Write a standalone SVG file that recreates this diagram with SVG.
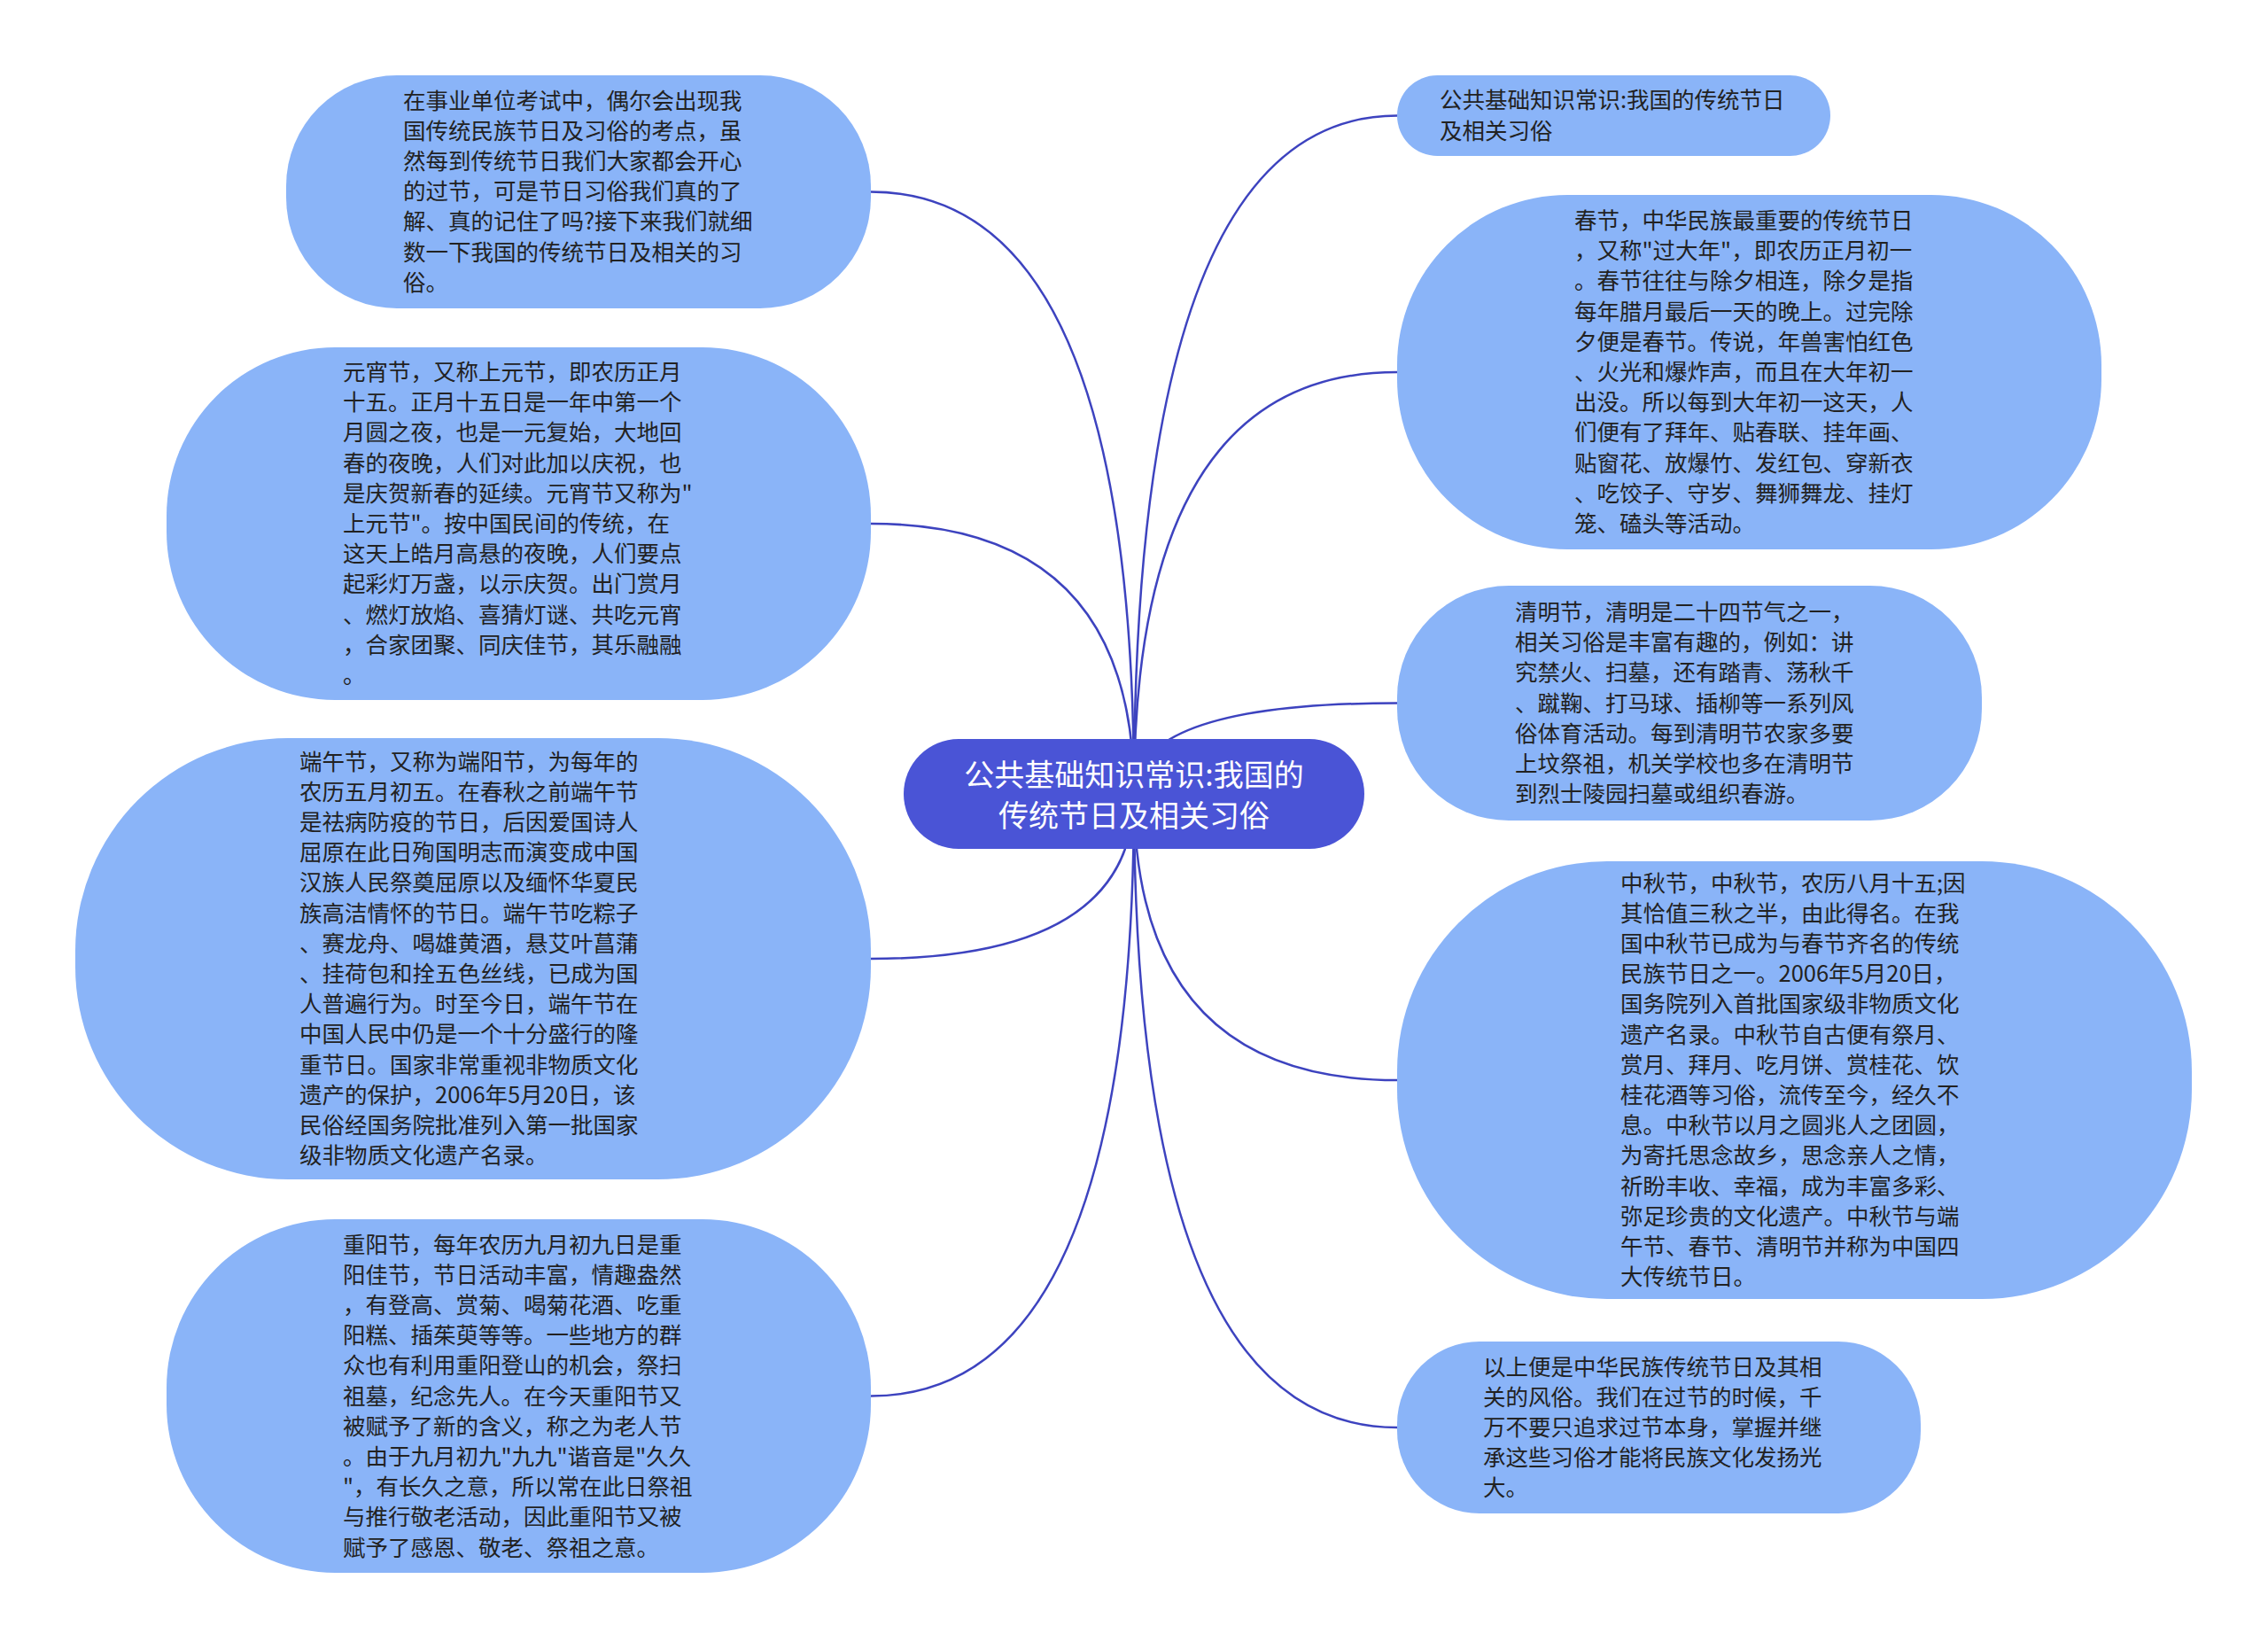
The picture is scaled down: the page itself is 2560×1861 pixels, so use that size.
<svg xmlns="http://www.w3.org/2000/svg" width="2560" height="1861" viewBox="0 0 2560 1861">
<style>
.node{fill:#8ab4f8;}
.t{font-family:"Noto Sans CJK SC","Noto Sans",sans-serif;font-size:25.5px;fill:#222;}
.ct{font-family:"Noto Sans CJK SC","Noto Sans",sans-serif;font-size:34px;fill:#fff;text-anchor:middle;}
.edge{fill:none;stroke:#3d43bf;stroke-width:2.5;}
</style>
<rect width="2560" height="1861" fill="#fff"/>
<g id="connectors">
<path class="edge" d="M1280 896 Q1280 130.5 1577 130.5"/>
<path class="edge" d="M1280 896 Q1280 420 1577 420"/>
<path class="edge" d="M1280 896 Q1280 793.5 1577 793.5"/>
<path class="edge" d="M1280 896 Q1280 1219 1577 1219"/>
<path class="edge" d="M1280 896 Q1280 1611 1577 1611"/>
<path class="edge" d="M1280 896 Q1280 216.5 983 216.5"/>
<path class="edge" d="M1280 896 Q1280 591 983 591"/>
<path class="edge" d="M1280 896 Q1280 1082 983 1082"/>
<path class="edge" d="M1280 896 Q1280 1575.5 983 1575.5"/>
</g>
<g id="center">
<rect x="1020" y="834" width="520" height="124" rx="62" fill="#4a54d6"/>
<text class="ct" x="1280" y="887">公共基础知识常识:我国的</text>
<text class="ct" x="1280" y="933">传统节日及相关习俗</text>
</g>
<g id="L1">
<rect class="node" x="323" y="85" width="660" height="263" rx="125" ry="125"/>
<text class="t" x="455" y="122.5"><tspan x="455">在事业单位考试中，偶尔会出现我</tspan><tspan x="455" dy="34.2">国传统民族节日及习俗的考点，虽</tspan><tspan x="455" dy="34.2">然每到传统节日我们大家都会开心</tspan><tspan x="455" dy="34.2">的过节，可是节日习俗我们真的了</tspan><tspan x="455" dy="34.2">解、真的记住了吗?接下来我们就细</tspan><tspan x="455" dy="34.2">数一下我国的传统节日及相关的习</tspan><tspan x="455" dy="34.2">俗。</tspan></text>
</g>
<g id="L2">
<rect class="node" x="188" y="392" width="795" height="398" rx="190" ry="190"/>
<text class="t" x="387" y="429"><tspan x="387">元宵节，又称上元节，即农历正月</tspan><tspan x="387" dy="34.2">十五。正月十五日是一年中第一个</tspan><tspan x="387" dy="34.2">月圆之夜，也是一元复始，大地回</tspan><tspan x="387" dy="34.2">春的夜晚，人们对此加以庆祝，也</tspan><tspan x="387" dy="34.2">是庆贺新春的延续。元宵节又称为"</tspan><tspan x="387" dy="34.2">上元节"。按中国民间的传统，在</tspan><tspan x="387" dy="34.2">这天上皓月高悬的夜晚，人们要点</tspan><tspan x="387" dy="34.2">起彩灯万盏，以示庆贺。出门赏月</tspan><tspan x="387" dy="34.2">、燃灯放焰、喜猜灯谜、共吃元宵</tspan><tspan x="387" dy="34.2">，合家团聚、同庆佳节，其乐融融</tspan><tspan x="387" dy="34.2">。</tspan></text>
</g>
<g id="L3">
<rect class="node" x="85" y="833" width="898" height="498" rx="240" ry="240"/>
<text class="t" x="338" y="868.5"><tspan x="338">端午节，又称为端阳节，为每年的</tspan><tspan x="338" dy="34.2">农历五月初五。在春秋之前端午节</tspan><tspan x="338" dy="34.2">是祛病防疫的节日，后因爱国诗人</tspan><tspan x="338" dy="34.2">屈原在此日殉国明志而演变成中国</tspan><tspan x="338" dy="34.2">汉族人民祭奠屈原以及缅怀华夏民</tspan><tspan x="338" dy="34.2">族高洁情怀的节日。端午节吃粽子</tspan><tspan x="338" dy="34.2">、赛龙舟、喝雄黄酒，悬艾叶菖蒲</tspan><tspan x="338" dy="34.2">、挂荷包和拴五色丝线，已成为国</tspan><tspan x="338" dy="34.2">人普遍行为。时至今日，端午节在</tspan><tspan x="338" dy="34.2">中国人民中仍是一个十分盛行的隆</tspan><tspan x="338" dy="34.2">重节日。国家非常重视非物质文化</tspan><tspan x="338" dy="34.2">遗产的保护，2006年5月20日，该</tspan><tspan x="338" dy="34.2">民俗经国务院批准列入第一批国家</tspan><tspan x="338" dy="34.2">级非物质文化遗产名录。</tspan></text>
</g>
<g id="L4">
<rect class="node" x="188" y="1376" width="795" height="399" rx="190" ry="190"/>
<text class="t" x="387" y="1413.5"><tspan x="387">重阳节，每年农历九月初九日是重</tspan><tspan x="387" dy="34.2">阳佳节，节日活动丰富，情趣盎然</tspan><tspan x="387" dy="34.2">，有登高、赏菊、喝菊花酒、吃重</tspan><tspan x="387" dy="34.2">阳糕、插茱萸等等。一些地方的群</tspan><tspan x="387" dy="34.2">众也有利用重阳登山的机会，祭扫</tspan><tspan x="387" dy="34.2">祖墓，纪念先人。在今天重阳节又</tspan><tspan x="387" dy="34.2">被赋予了新的含义，称之为老人节</tspan><tspan x="387" dy="34.2">。由于九月初九"九九"谐音是"久久</tspan><tspan x="387" dy="34.2">"，有长久之意，所以常在此日祭祖</tspan><tspan x="387" dy="34.2">与推行敬老活动，因此重阳节又被</tspan><tspan x="387" dy="34.2">赋予了感恩、敬老、祭祖之意。</tspan></text>
</g>
<g id="R1">
<rect class="node" x="1577" y="85" width="489" height="91" rx="45.5" ry="45.5"/>
<text class="t" x="1625" y="122.3"><tspan x="1625">公共基础知识常识:我国的传统节日</tspan><tspan x="1625" dy="34.2">及相关习俗</tspan></text>
</g>
<g id="R2">
<rect class="node" x="1577" y="220" width="795" height="400" rx="192" ry="192"/>
<text class="t" x="1777" y="258"><tspan x="1777">春节，中华民族最重要的传统节日</tspan><tspan x="1777" dy="34.2">，又称"过大年"，即农历正月初一</tspan><tspan x="1777" dy="34.2">。春节往往与除夕相连，除夕是指</tspan><tspan x="1777" dy="34.2">每年腊月最后一天的晚上。过完除</tspan><tspan x="1777" dy="34.2">夕便是春节。传说，年兽害怕红色</tspan><tspan x="1777" dy="34.2">、火光和爆炸声，而且在大年初一</tspan><tspan x="1777" dy="34.2">出没。所以每到大年初一这天，人</tspan><tspan x="1777" dy="34.2">们便有了拜年、贴春联、挂年画、</tspan><tspan x="1777" dy="34.2">贴窗花、放爆竹、发红包、穿新衣</tspan><tspan x="1777" dy="34.2">、吃饺子、守岁、舞狮舞龙、挂灯</tspan><tspan x="1777" dy="34.2">笼、磕头等活动。</tspan></text>
</g>
<g id="R3">
<rect class="node" x="1577" y="661" width="660" height="265" rx="126" ry="126"/>
<text class="t" x="1710" y="700"><tspan x="1710">清明节，清明是二十四节气之一，</tspan><tspan x="1710" dy="34.2">相关习俗是丰富有趣的，例如：讲</tspan><tspan x="1710" dy="34.2">究禁火、扫墓，还有踏青、荡秋千</tspan><tspan x="1710" dy="34.2">、蹴鞠、打马球、插柳等一系列风</tspan><tspan x="1710" dy="34.2">俗体育活动。每到清明节农家多要</tspan><tspan x="1710" dy="34.2">上坟祭祖，机关学校也多在清明节</tspan><tspan x="1710" dy="34.2">到烈士陵园扫墓或组织春游。</tspan></text>
</g>
<g id="R4">
<rect class="node" x="1577" y="972" width="897" height="494" rx="237" ry="237"/>
<text class="t" x="1829" y="1005.6"><tspan x="1829">中秋节，中秋节，农历八月十五;因</tspan><tspan x="1829" dy="34.2">其恰值三秋之半，由此得名。在我</tspan><tspan x="1829" dy="34.2">国中秋节已成为与春节齐名的传统</tspan><tspan x="1829" dy="34.2">民族节日之一。2006年5月20日，</tspan><tspan x="1829" dy="34.2">国务院列入首批国家级非物质文化</tspan><tspan x="1829" dy="34.2">遗产名录。中秋节自古便有祭月、</tspan><tspan x="1829" dy="34.2">赏月、拜月、吃月饼、赏桂花、饮</tspan><tspan x="1829" dy="34.2">桂花酒等习俗，流传至今，经久不</tspan><tspan x="1829" dy="34.2">息。中秋节以月之圆兆人之团圆，</tspan><tspan x="1829" dy="34.2">为寄托思念故乡，思念亲人之情，</tspan><tspan x="1829" dy="34.2">祈盼丰收、幸福，成为丰富多彩、</tspan><tspan x="1829" dy="34.2">弥足珍贵的文化遗产。中秋节与端</tspan><tspan x="1829" dy="34.2">午节、春节、清明节并称为中国四</tspan><tspan x="1829" dy="34.2">大传统节日。</tspan></text>
</g>
<g id="R5">
<rect class="node" x="1577" y="1514" width="591" height="194" rx="93" ry="93"/>
<text class="t" x="1674" y="1551.5"><tspan x="1674">以上便是中华民族传统节日及其相</tspan><tspan x="1674" dy="34.2">关的风俗。我们在过节的时候，千</tspan><tspan x="1674" dy="34.2">万不要只追求过节本身，掌握并继</tspan><tspan x="1674" dy="34.2">承这些习俗才能将民族文化发扬光</tspan><tspan x="1674" dy="34.2">大。</tspan></text>
</g>
</svg>
